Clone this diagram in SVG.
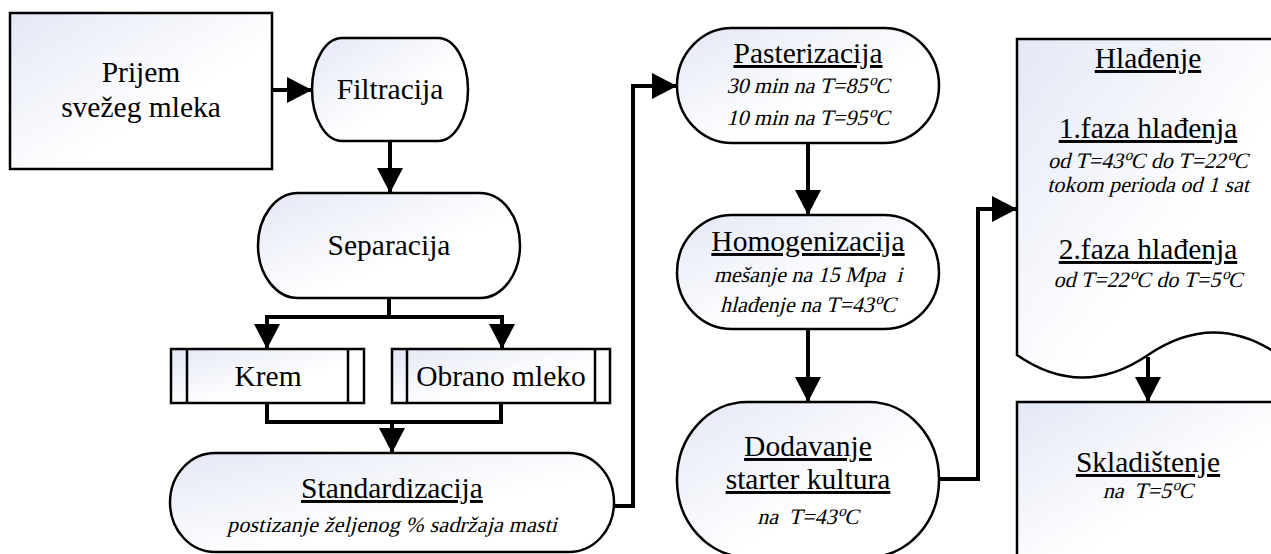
<svg xmlns="http://www.w3.org/2000/svg" width="1271" height="554" viewBox="0 0 1271 554">
<style>
.n{fill:url(#g);stroke:#000;stroke-width:2.5}
.t{font-family:"Liberation Serif","Times New Roman",serif;font-size:29.5px;fill:#000;text-anchor:middle}
.u{text-decoration:underline}
.i{font-family:"Liberation Serif","Times New Roman",serif;font-size:22px;fill:#000;text-anchor:middle}
.c{fill:none;stroke:#000;stroke-width:4}
.s{baseline-shift:super;font-size:70%}
</style>
<defs>
<linearGradient id="g" x1="0" y1="0" x2="1" y2="1">
<stop offset="0" stop-color="#e3e8f5"/>
<stop offset="0.6" stop-color="#ffffff"/>
</linearGradient>
<marker id="a" markerUnits="userSpaceOnUse" markerWidth="26" markerHeight="26" refX="25" refY="13" orient="auto">
<path d="M0,0 L25,13 L0,26 z" fill="#000"/>
</marker>
</defs>

<g id="connectors">
<path class="c" d="M272,90 H312" marker-end="url(#a)"/>
<path class="c" d="M390,141 V193" marker-end="url(#a)"/>
<path class="c" d="M389,298 V317 H267 V349" marker-end="url(#a)"/>
<path class="c" d="M389,317 H502 V349" marker-end="url(#a)"/>
<path class="c" d="M267,403 V422 H392 V453" marker-end="url(#a)"/>
<path class="c" d="M501,403 V422 H392"/>
<path class="c" d="M614,506 H633 V86 H677" marker-end="url(#a)"/>
<path class="c" d="M808,143 V215" marker-end="url(#a)"/>
<path class="c" d="M808,329 V402" marker-end="url(#a)"/>
<path class="c" d="M939,479 H978 V209 H1017" marker-end="url(#a)"/>
<path class="c" d="M1148,357 V402" marker-end="url(#a)"/>
</g>

<g id="prijem">
<rect class="n" x="10" y="13" width="262" height="156"/>
<text class="t" x="141" y="82">Prijem</text>
<text class="t" x="141" y="117">svežeg mleka</text>
</g>

<g id="filtracija">
<rect class="n" x="312" y="38" width="156" height="103" rx="30" ry="51.5"/>
<text class="t" x="390" y="99">Filtracija</text>
</g>

<g id="separacija">
<rect class="n" x="258" y="193" width="262" height="105" rx="40" ry="52.5"/>
<text class="t" x="389" y="255">Separacija</text>
</g>

<g id="krem">
<rect class="n" x="171" y="349" width="193" height="54"/>
<path d="M187,349 V403 M348,349 V403" stroke="#000" stroke-width="2.5"/>
<text class="t" x="268" y="386">Krem</text>
</g>

<g id="obrano">
<rect class="n" x="392" y="349" width="218" height="54"/>
<path d="M407,349 V403 M595,349 V403" stroke="#000" stroke-width="2.5"/>
<text class="t" x="501" y="386">Obrano mleko</text>
</g>

<g id="standardizacija">
<rect class="n" x="170" y="453" width="444" height="99" rx="45" ry="49.5"/>
<text class="t u" x="392" y="498">Standardizacija</text>
<text class="i" transform="translate(392,532) skewX(-14)" textLength="330" lengthAdjust="spacing">postizanje željenog % sadržaja masti</text>
</g>

<g id="pasterizacija">
<rect class="n" x="677" y="28" width="262" height="115" rx="55" ry="57.5"/>
<text class="t u" x="808" y="63">Pasterizacija</text>
<text class="i" transform="translate(808,93) skewX(-14)">30 min na T=85<tspan class="s">o</tspan>C</text>
<text class="i" transform="translate(808,125) skewX(-14)">10 min na T=95<tspan class="s">o</tspan>C</text>
</g>

<g id="homogenizacija">
<rect class="n" x="677" y="215" width="262" height="114" rx="55" ry="57"/>
<text class="t u" x="808" y="251">Homogenizacija</text>
<text class="i" transform="translate(808,282) skewX(-14)" xml:space="preserve">mešanje na 15 Mpa  i</text>
<text class="i" transform="translate(808,312) skewX(-14)">hlađenje na T=43<tspan class="s">o</tspan>C</text>
</g>

<g id="dodavanje">
<rect class="n" x="677" y="402" width="262" height="155" rx="70" ry="77"/>
<text class="t u" x="808" y="456">Dodavanje</text>
<text class="t u" x="808" y="489">starter kultura</text>
<text class="i" transform="translate(808,524) skewX(-14)" xml:space="preserve">na  T=43<tspan class="s">o</tspan>C</text>
</g>

<g id="hladjenje">
<path class="n" d="M1017,39 H1279 V355 Q1214,310 1148,355 Q1082,400 1017,355 Z"/>
<text class="t u" x="1148" y="68">Hlađenje</text>
<text class="t u" x="1148" y="138">1.faza hlađenja</text>
<text class="i" transform="translate(1148,168) skewX(-14)">od T=43<tspan class="s">o</tspan>C do T=22<tspan class="s">o</tspan>C</text>
<text class="i" transform="translate(1148,192) skewX(-14)">tokom perioda od 1 sat</text>
<text class="t u" x="1148" y="259">2.faza hlađenja</text>
<text class="i" transform="translate(1148,287) skewX(-14)">od T=22<tspan class="s">o</tspan>C do T=5<tspan class="s">o</tspan>C</text>
</g>

<g id="skladistenje">
<rect class="n" x="1017" y="402" width="262" height="160"/>
<text class="t u" x="1148" y="472">Skladištenje</text>
<text class="i" transform="translate(1148,498) skewX(-14)" xml:space="preserve">na  T=5<tspan class="s">o</tspan>C</text>
</g>
</svg>
